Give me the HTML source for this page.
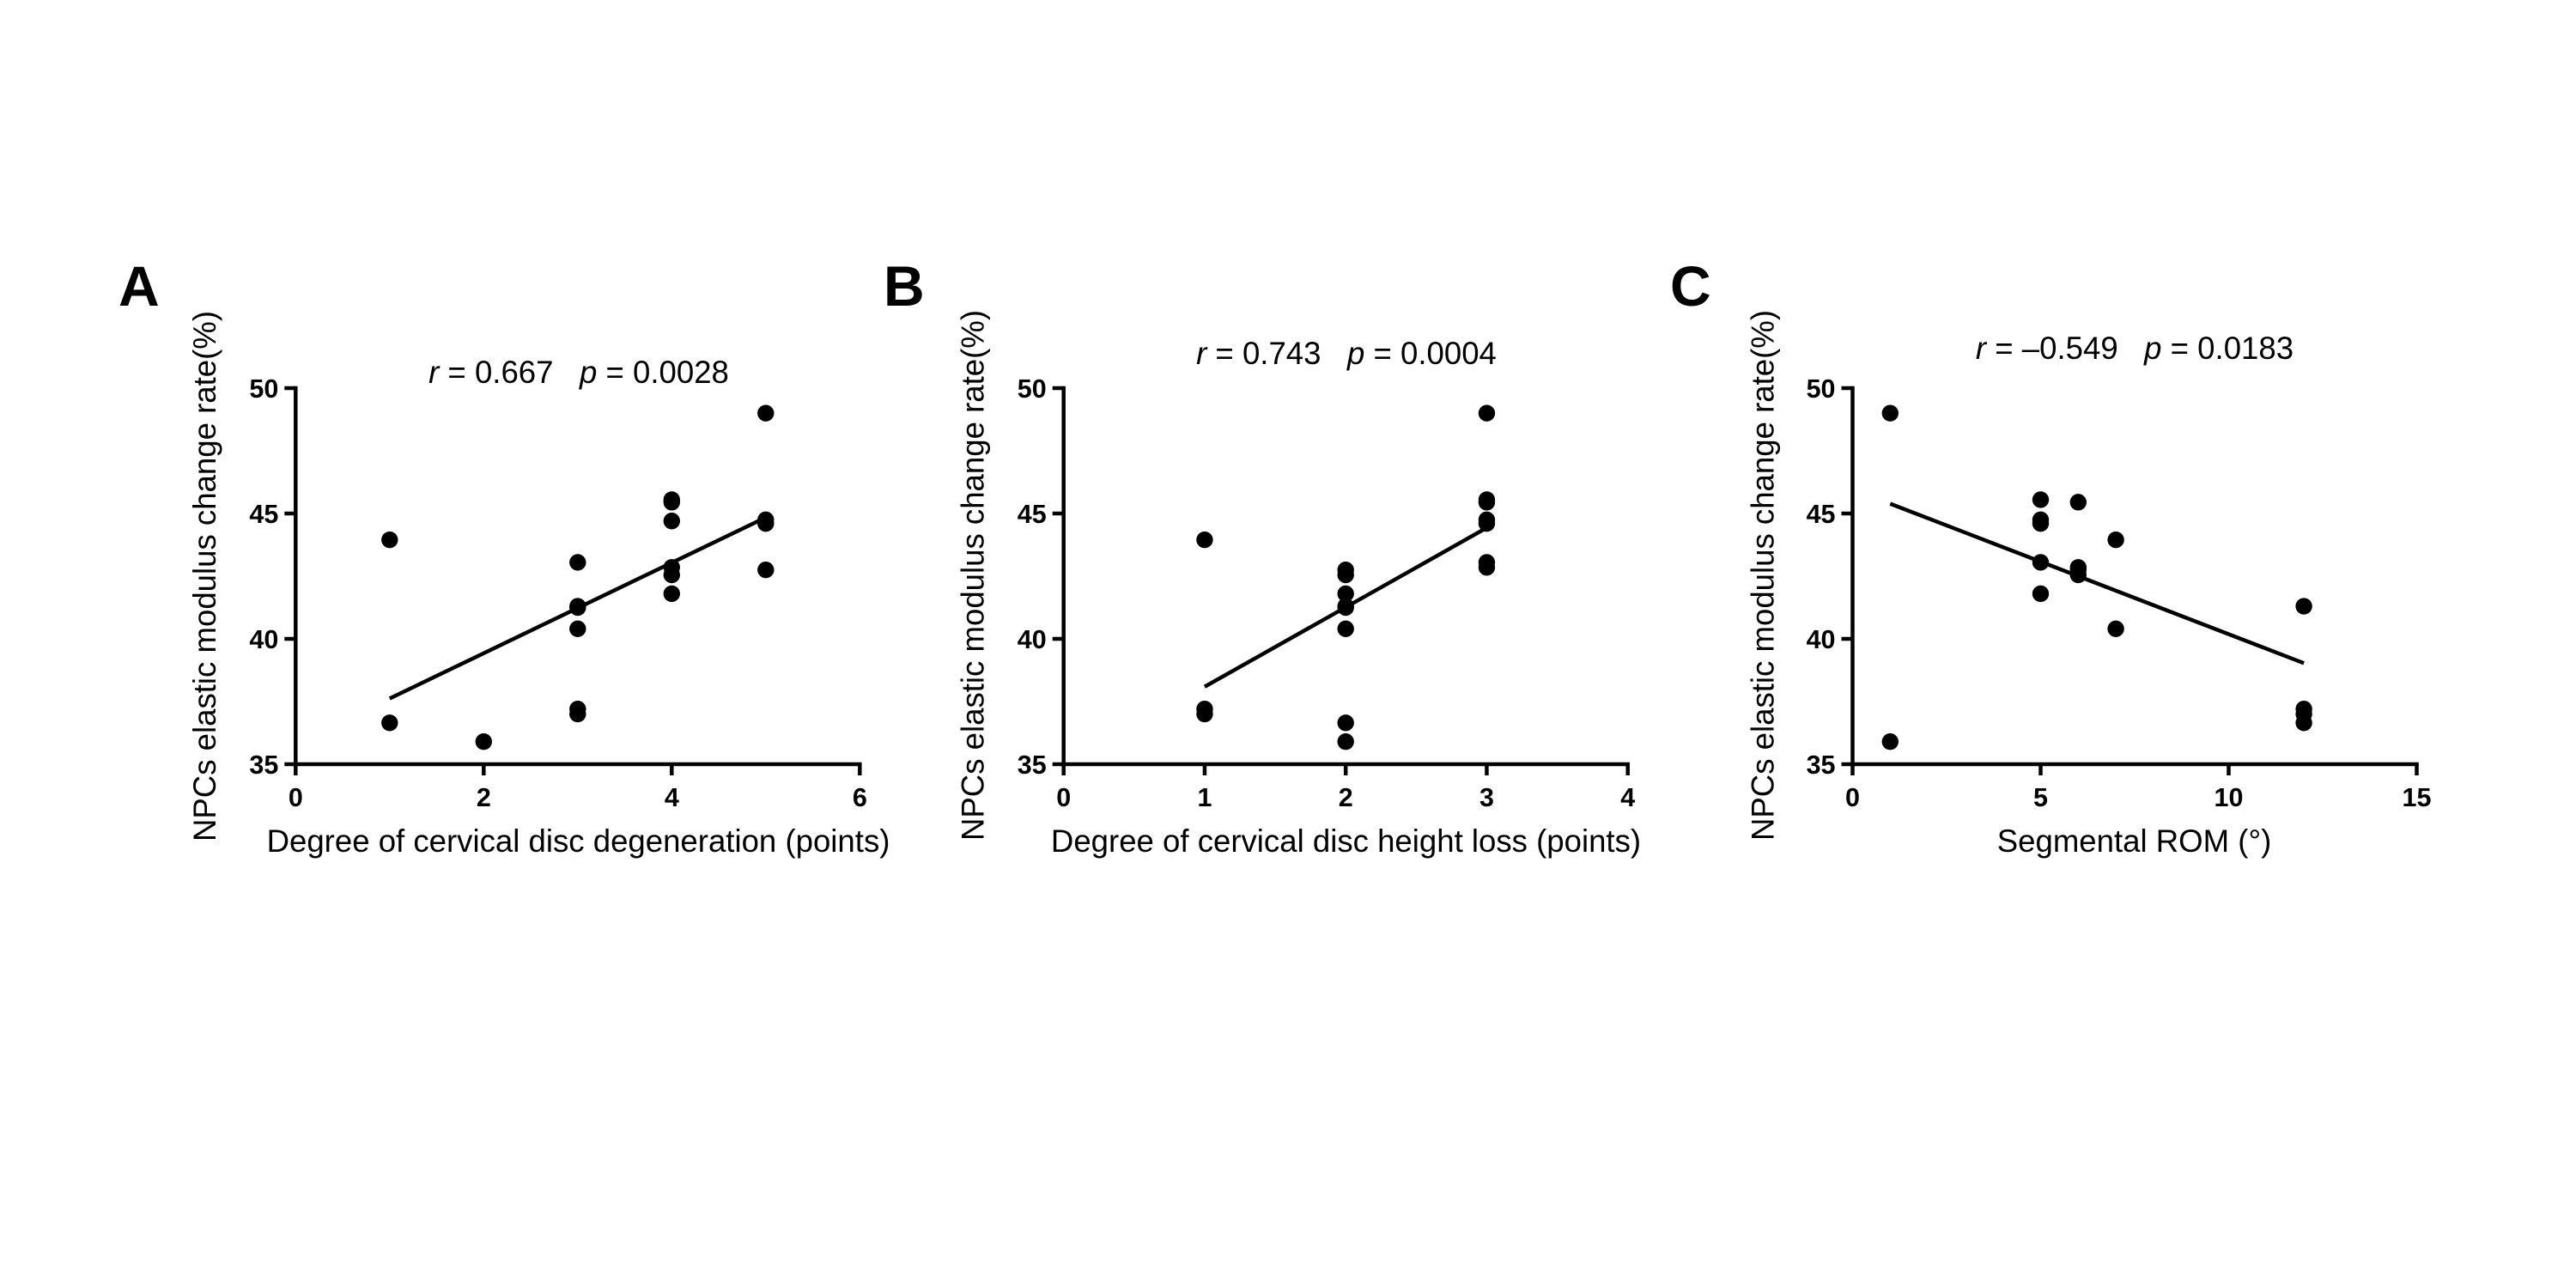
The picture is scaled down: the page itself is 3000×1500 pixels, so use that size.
<!DOCTYPE html>
<html lang="en">
<head>
<meta charset="utf-8">
<title>NPCs elastic modulus correlations</title>
<style>
  html, body { margin: 0; padding: 0; background: #fff; }
  #figure { display: block; width: 3000px; height: 1500px; background: #fff; }
  text { font-family: "Liberation Sans", Arial, sans-serif; fill: #000; }
  .panel-letter { font-size: 66px; font-weight: 700; }
  .axis-title { font-size: 36.6px; }
  .stat { font-size: 36.6px; white-space: pre; }
  .tick-label { font-size: 30.5px; font-weight: 700; }
</style>
</head>
<body>
<svg id="figure" width="3000" height="1500" viewBox="0 0 3000 1500" xmlns="http://www.w3.org/2000/svg">
  <rect x="0" y="0" width="3000" height="1500" fill="#fff"/>

  <g id="panel-a">
    <text class="panel-letter" x="138" y="356">A</text>
    <text class="axis-title" text-anchor="middle" transform="translate(251 671) rotate(-90)">NPCs elastic modulus change rate(%)</text>
    <text class="axis-title" text-anchor="middle" x="673.5" y="992">Degree of cervical disc degeneration (points)</text>
    <text class="stat" text-anchor="middle" x="674" y="446"><tspan font-style="italic">r</tspan> = 0.667   <tspan font-style="italic">p</tspan> = 0.0028</text>
  </g>

  <g id="panel-b">
    <text class="panel-letter" x="1029" y="356">B</text>
    <text class="axis-title" text-anchor="middle" transform="translate(1145.5 670) rotate(-90)">NPCs elastic modulus change rate(%)</text>
    <text class="axis-title" text-anchor="middle" x="1567.5" y="992">Degree of cervical disc height loss (points)</text>
    <text class="stat" text-anchor="middle" x="1568" y="424"><tspan font-style="italic">r</tspan> = 0.743   <tspan font-style="italic">p</tspan> = 0.0004</text>
  </g>

  <g id="panel-c">
    <text class="panel-letter" x="1945" y="356">C</text>
    <text class="axis-title" text-anchor="middle" transform="translate(2065.5 670) rotate(-90)">NPCs elastic modulus change rate(%)</text>
    <text class="axis-title" text-anchor="middle" x="2485.5" y="992">Segmental ROM (°)</text>
    <text class="stat" text-anchor="middle" x="2486" y="418"><tspan font-style="italic">r</tspan> = –0.549   <tspan font-style="italic">p</tspan> = 0.0183</text>
  </g>
</svg>

<script>
// Shared y axis
const yTicks = [35, 40, 45, 50];

// Panel A data
const xTicksA = [0, 2, 4, 6];
const pointsXA = [1, 1, 2, 3, 3, 3, 3, 3, 3, 4, 4, 4, 4, 4, 4, 5, 5, 5, 5];
const pointsYA = [43.95, 36.65, 35.9, 43.05, 41.3, 41.25, 40.4, 37.2, 37.0, 45.55, 45.45, 44.7, 42.85, 42.55, 41.8, 49.0, 44.75, 44.6, 42.75];
const fitXA = [1, 5];
const fitYA = [37.62, 44.84];

// Panel B data
const xTicksB = [0, 1, 2, 3, 4];
const pointsXB = [1, 1, 1, 2, 2, 2, 2, 2, 2, 2, 2, 3, 3, 3, 3, 3, 3, 3];
const pointsYB = [43.95, 37.2, 37.0, 42.75, 42.55, 41.8, 41.3, 41.25, 40.4, 36.65, 35.9, 49.0, 45.55, 45.45, 44.75, 44.6, 43.05, 42.85];
const fitXB = [1, 3];
const fitYB = [38.09, 44.43];

// Panel C data
const xTicksC = [0, 5, 10, 15];
const pointsXC = [1, 1, 5, 5, 5, 5, 5, 6, 6, 6, 6, 7, 7, 12, 12, 12, 12];
const pointsYC = [49.0, 35.9, 45.55, 44.75, 44.6, 43.05, 41.8, 45.45, 42.85, 42.75, 42.55, 43.95, 40.4, 41.3, 37.2, 37.0, 36.65];
const fitXC = [1, 12];
const fitYC = [45.39, 39.03];

const SVG_NS = 'http://www.w3.org/2000/svg';

function makeScale(domainMin, domainMax, rangeMin, rangeMax) {
  return function (v) {
    return rangeMin + (v - domainMin) / (domainMax - domainMin) * (rangeMax - rangeMin);
  };
}

function drawPanel(prefix, groupId, left, right, xTicks, ptsX, ptsY, fitX, fitY) {
  const group = document.getElementById(groupId);
  const top = 452;
  const bottom = 890;
  const tickLen = 13;
  const xScale = makeScale(xTicks[0], xTicks[xTicks.length - 1], left, right);
  const yScale = makeScale(yTicks[0], yTicks[yTicks.length - 1], bottom, top);

  const yAxis = document.createElementNS(SVG_NS, 'line');
  
  
  yAxis.setAttribute('x1', left);
  yAxis.setAttribute('x2', left);
  yAxis.setAttribute('y1', top - 2.25);
  yAxis.setAttribute('y2', bottom + 2.25);
  yAxis.setAttribute('stroke', '#000');
  yAxis.setAttribute('stroke-width', 4.5);
  group.appendChild(yAxis);

  const xAxis = document.createElementNS(SVG_NS, 'line');
  
  
  xAxis.setAttribute('x1', left - 2.25);
  xAxis.setAttribute('x2', right + 2.25);
  xAxis.setAttribute('y1', bottom);
  xAxis.setAttribute('y2', bottom);
  xAxis.setAttribute('stroke', '#000');
  xAxis.setAttribute('stroke-width', 4.5);
  group.appendChild(xAxis);

  yTicks.forEach(function (t) {
    const mark = document.createElementNS(SVG_NS, 'line');
    
    
    mark.setAttribute('x1', left - tickLen);
    mark.setAttribute('x2', left);
    mark.setAttribute('y1', yScale(t));
    mark.setAttribute('y2', yScale(t));
    mark.setAttribute('stroke', '#000');
    mark.setAttribute('stroke-width', 4.5);
    group.appendChild(mark);

    const label = document.createElementNS(SVG_NS, 'text');
    
    
    label.setAttribute('class', 'tick-label');
    label.setAttribute('text-anchor', 'end');
    label.setAttribute('x', left - 20);
    label.setAttribute('y', yScale(t) + 11);
    label.textContent = t;
    group.appendChild(label);
  });

  xTicks.forEach(function (t) {
    const mark = document.createElementNS(SVG_NS, 'line');
    
    
    mark.setAttribute('x1', xScale(t));
    mark.setAttribute('x2', xScale(t));
    mark.setAttribute('y1', bottom);
    mark.setAttribute('y2', bottom + tickLen);
    mark.setAttribute('stroke', '#000');
    mark.setAttribute('stroke-width', 4.5);
    group.appendChild(mark);

    const label = document.createElementNS(SVG_NS, 'text');
    
    
    label.setAttribute('class', 'tick-label');
    label.setAttribute('text-anchor', 'middle');
    label.setAttribute('x', xScale(t));
    label.setAttribute('y', 939);
    label.textContent = t;
    group.appendChild(label);
  });

  ptsX.forEach(function (px, i) {
    const dot = document.createElementNS(SVG_NS, 'circle');
    
    
    dot.setAttribute('cx', xScale(px));
    dot.setAttribute('cy', yScale(ptsY[i]));
    dot.setAttribute('r', 9.7);
    dot.setAttribute('fill', '#000');
    group.appendChild(dot);
  });

  const fit = document.createElementNS(SVG_NS, 'line');
  
  
  fit.setAttribute('x1', xScale(fitX[0]));
  fit.setAttribute('y1', yScale(fitY[0]));
  fit.setAttribute('x2', xScale(fitX[1]));
  fit.setAttribute('y2', yScale(fitY[1]));
  fit.setAttribute('stroke', '#000');
  fit.setAttribute('stroke-width', 4.5);
  group.appendChild(fit);
}

drawPanel('panel-a', 'panel-a', 344.3, 1001.3, xTicksA, pointsXA, pointsYA, fitXA, fitYA);
drawPanel('panel-b', 'panel-b', 1238.7, 1895.7, xTicksB, pointsXB, pointsYB, fitXB, fitYB);
drawPanel('panel-c', 'panel-c', 2157.5, 2814.5, xTicksC, pointsXC, pointsYC, fitXC, fitYC);
</script>
</body>
</html>
